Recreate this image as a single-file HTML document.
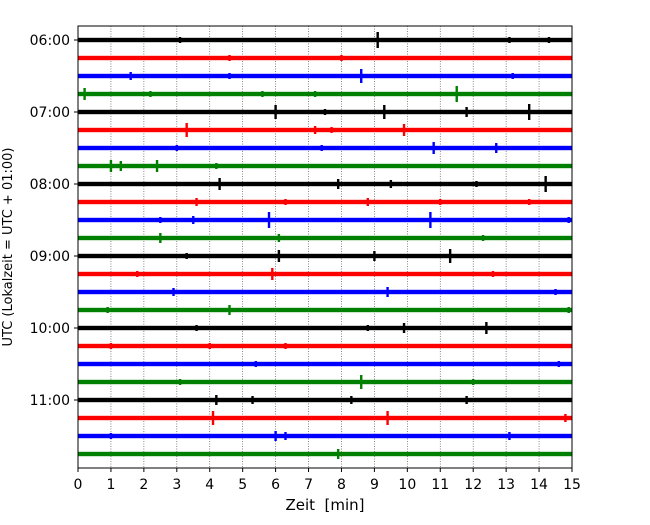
<!DOCTYPE html>
<html><head><meta charset="utf-8"><style>
body{margin:0;background:#fff;font-family:"Liberation Sans","DejaVu Sans",sans-serif}
</style></head><body>
<svg id="chart" width="650" height="520" xmlns="http://www.w3.org/2000/svg" font-family="DejaVu Sans, Liberation Sans, sans-serif">
<rect width="650" height="520" fill="#fff"/>
<g id="grid"></g><g id="traces"></g><g id="axes"></g>
</svg>
<script>
const colors=["#000000","#ff0000","#0000ff","#008000"];
const xTicks=[0,1,2,3,4,5,6,7,8,9,10,11,12,13,14,15];
const yTickLabels=["06:00","07:00","08:00","09:00","10:00","11:00"];
const rowCount=24;
// events per row: [minute, half-amplitude]
const events=[
[[9.1,8],[3.1,3],[13.1,3],[14.3,3],[7.0,2]],
[[4.6,3],[8.0,3],[3.4,2]],
[[8.6,7],[1.6,4],[4.6,3],[13.2,3]],
[[0.2,6],[11.5,8],[2.2,3],[5.6,3],[7.2,3]],
[[6.0,7],[9.3,7],[13.7,8],[11.8,5],[7.5,3]],
[[3.3,7],[9.9,6],[7.2,4],[7.7,3]],
[[10.8,6],[12.7,5],[7.4,3],[3.0,3]],
[[1.0,6],[1.3,5],[2.4,6],[4.2,3]],
[[4.3,6],[7.9,5],[9.5,4],[14.2,8],[12.1,3]],
[[3.6,4],[6.3,3],[8.8,4],[13.7,3],[11.0,3]],
[[5.8,8],[10.7,8],[3.5,4],[14.9,3],[2.5,3]],
[[2.5,5],[6.1,4],[12.3,3]],
[[6.1,6],[9.0,5],[11.3,7],[3.3,3]],
[[5.9,6],[1.8,3],[12.6,3]],
[[2.9,4],[9.4,5],[14.5,3]],
[[4.6,5],[0.9,3],[14.9,3]],
[[3.6,3],[9.9,5],[12.4,6],[8.8,3]],
[[4.0,3],[1.0,3],[6.3,3]],
[[5.4,3],[14.6,3]],
[[8.6,7],[3.1,3],[12.0,3]],
[[4.2,5],[5.3,4],[8.3,4],[11.8,4]],
[[4.1,7],[9.4,7],[14.8,4]],
[[6.0,5],[6.3,4],[13.1,4],[1.0,3]],
[[7.9,5]]
];
const L=78,R=572,T=26,B=468,row0=40,rowStep=18;
const xs=m=>L+(R-L)*m/15;
const ys=i=>row0+i*rowStep;
const NS="http://www.w3.org/2000/svg";
function mk(tag,attrs,parent){const e=document.createElementNS(NS,tag);for(const k in attrs)e.setAttribute(k,attrs[k]);parent.appendChild(e);return e;}
const grid=document.getElementById('grid'),tr=document.getElementById('traces'),ax=document.getElementById('axes');
xTicks.forEach(t=>{if(t>0&&t<15){const g=mk('line',{x1:xs(t),x2:xs(t),y1:T,y2:B,stroke:'#555','stroke-width':0.7,'stroke-dasharray':'1,1.5'},grid);

}});
for(let i=0;i<rowCount;i++){
 const c=colors[i%4];
 const g=mk('g',{},tr);
 
 
 mk('rect',{x:L,y:ys(i)-2.2,width:R-L,height:4.4,fill:c},g);
 (events[i]||[]).forEach(([m,a])=>{
  const s=mk('rect',{x:xs(m)-1.2,y:ys(i)-a,width:2.4,height:2*a,fill:c},g);
  
  
 });
}
const frame=mk('rect',{x:L,y:T,width:R-L,height:B-T,fill:'none',stroke:'#000','stroke-width':1},ax);


xTicks.forEach(t=>{mk('line',{x1:xs(t),x2:xs(t),y1:B,y2:B+4,stroke:'#000'},ax);
 const tx=mk('text',{x:xs(t),y:B+21,'text-anchor':'middle','font-size':14},ax);tx.textContent=t;
 
 });
yTickLabels.forEach((lab,k)=>{const y=ys(k*4);mk('line',{x1:L-4,x2:L,y1:y,y2:y,stroke:'#000'},ax);
 const tx=mk('text',{x:L-8,y:y+5,'text-anchor':'end','font-size':14},ax);tx.textContent=lab;
 
 });
const xl=mk('text',{x:325,y:510,'text-anchor':'middle','font-size':15},ax);xl.textContent='Zeit\u00a0 [min]';


const yl=mk('text',{x:12,y:247,'text-anchor':'middle','font-size':13,transform:'rotate(-90 12 247)'},ax);yl.textContent='UTC (Lokalzeit = UTC + 01:00)';


</script>
</body></html>
